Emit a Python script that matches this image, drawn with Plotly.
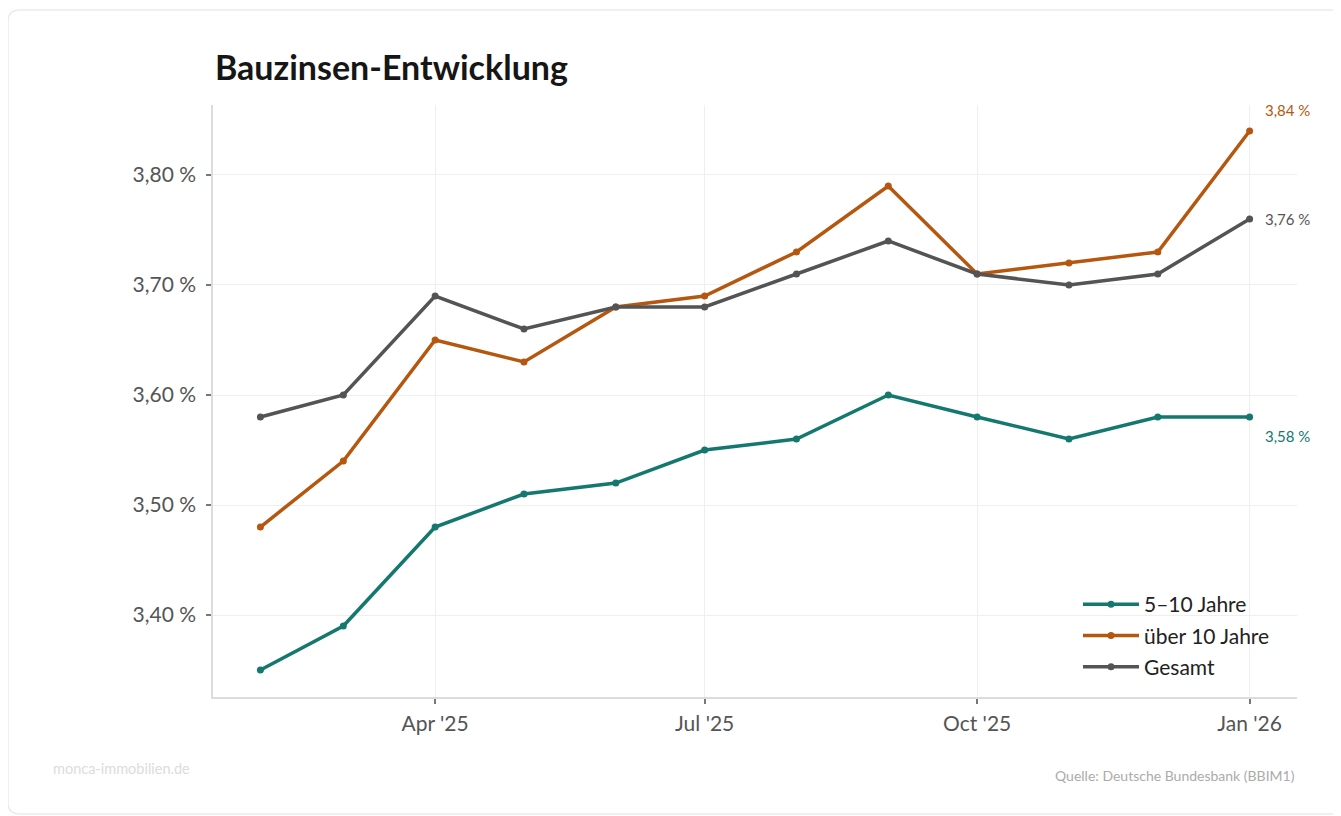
import plotly.graph_objects as go

# monthly building-rate data (Deutsche Bundesbank BBIM1)
months = ["2025-02-01", "2025-03-01", "2025-04-01", "2025-05-01", "2025-06-01", "2025-07-01",
          "2025-08-01", "2025-09-01", "2025-10-01", "2025-11-01", "2025-12-01", "2026-01-01"]
rate_5_10 = [3.35, 3.39, 3.48, 3.51, 3.52, 3.55, 3.56, 3.60, 3.58, 3.56, 3.58, 3.58]
rate_over_10 = [3.48, 3.54, 3.65, 3.63, 3.68, 3.69, 3.73, 3.79, 3.71, 3.72, 3.73, 3.84]
rate_total = [3.58, 3.60, 3.69, 3.66, 3.68, 3.68, 3.71, 3.74, 3.71, 3.70, 3.71, 3.76]

tick_dates = ["2025-04-01", "2025-07-01", "2025-10-01", "2026-01-01"]
tick_labels = ["Apr '25", "Jul '25", "Oct '25", "Jan '26"]
y_ticks = [3.4, 3.5, 3.6, 3.7, 3.8]

series = [
    ("5–10 Jahre", rate_5_10, "#14786f", -19),
    ("über 10 Jahre", rate_over_10, "#b5570f", 21),
    ("Gesamt", rate_total, "#545454", 0),
]


def pct(v):
    return f"{v:.2f} %".replace(".", ",")


OFF = 8  # page body margin
W, H = 1341 - OFF, 816 - OFF
L, R, T, B = 213 - OFF, 44, 105 - OFF, 119
pw, ph = W - L - R, H - T - B


def px(x, y):
    # page pixel -> paper coords
    return (x - OFF - L) / pw, (H - B - (y - OFF)) / ph


fig = go.Figure()

for i, (name, vals, color, _) in enumerate(series):
    fig.add_trace(go.Scatter(
        x=months, y=vals, name=name, mode="lines+markers",
        line=dict(color=color, width=3.5),
        marker=dict(color=color, size=7),
        legendgroup=f"g{i}",
        hoverinfo="skip",
    ))

# end-of-line value labels
for name, vals, color, shift in series:
    fig.add_annotation(
        x=months[-1], y=vals[-1], text=pct(vals[-1]),
        showarrow=False, xanchor="left", yanchor="middle", xshift=13, yshift=shift,
        font=dict(family="Lato", size=15, color=color),
    )

# card background with rounded left corners
x0, y0 = px(8, 10)
x1, y1 = px(1360, 814)
rx, ry = 12 / pw, 12 / ph
card = (f"M {x1} {y0} L {x0 + rx} {y0} Q {x0} {y0} {x0} {y0 - ry} "
        f"L {x0} {y1 + ry} Q {x0} {y1} {x0 + rx} {y1} L {x1} {y1}")
fig.add_shape(type="path", path=card, xref="paper", yref="paper",
              line=dict(color="#ebebeb", width=1.5), fillcolor="white", layer="below")

tx, ty = px(213, 66)
fig.add_annotation(x=tx, y=ty, xref="paper", yref="paper", text="<b>Bauzinsen-Entwicklung</b>",
                   showarrow=False, xanchor="left", yanchor="middle",
                   font=dict(family="Lato", size=34, color="#161616"))
fx, fy = px(51, 768)
fig.add_annotation(x=fx, y=fy, xref="paper", yref="paper", text="monca-immobilien.de",
                   showarrow=False, xanchor="left", yanchor="middle",
                   font=dict(family="Lato", size=14.5, color="#dcdcdc"))
qx, qy = px(1297, 775)
fig.add_annotation(x=qx, y=qy, xref="paper", yref="paper", text="Quelle: Deutsche Bundesbank (BBIM1)",
                   showarrow=False, xanchor="right", yanchor="middle",
                   font=dict(family="Lato", size=14, color="#ababab"))

lx, ly = px(1078, 584)
fig.update_layout(
    width=W, height=H,
    margin=dict(l=L, r=R, t=T, b=B, autoexpand=False),
    paper_bgcolor="#fdfdfd", plot_bgcolor="white",
    font=dict(family="Lato", color="#555555"),
    showlegend=True,
    legend=dict(x=lx, y=ly, xanchor="left", yanchor="top", bgcolor="rgba(0,0,0,0)",
                font=dict(size=21, color="#222222"), tracegroupgap=1, itemwidth=56),
    xaxis=dict(
        type="date", range=["2025-01-16", "2026-01-17"],
        tickvals=tick_dates, ticktext=tick_labels,
        showgrid=True, gridcolor="#efefef", gridwidth=1,
        showline=True, linecolor="#dcdcdc", linewidth=1.5,
        ticks="outside", ticklen=5, tickcolor="#777777", tickwidth=1.5,
        ticklabelstandoff=2, tickfont=dict(size=21, color="#555555"),
        zeroline=False,
    ),
    yaxis=dict(
        range=[3.3255, 3.8636], tickvals=y_ticks, ticktext=[pct(v) for v in y_ticks],
        showgrid=True, gridcolor="#efefef", gridwidth=1,
        showline=True, linecolor="#dcdcdc", linewidth=1.5,
        ticks="outside", ticklen=5, tickcolor="#777777", tickwidth=1.5,
        ticklabelstandoff=6, tickfont=dict(size=21, color="#555555"),
        zeroline=False,
    ),
)

fig.write_html("out.html")
